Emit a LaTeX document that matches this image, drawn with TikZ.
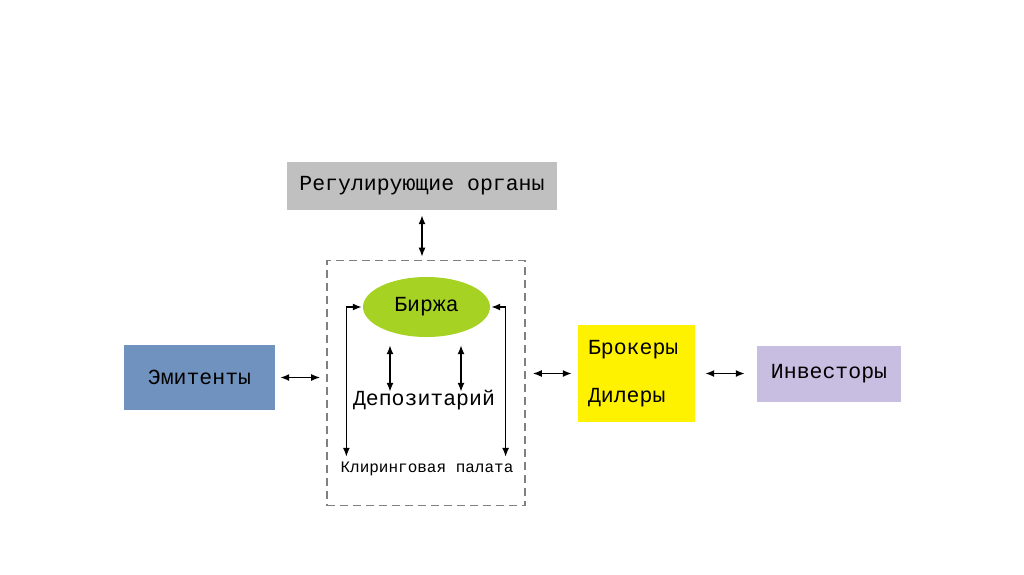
\documentclass[tikz,border=0pt]{standalone}
\usepackage{fontspec}
\setmainfont{Liberation Mono}
\usepackage{tikz}
\usetikzlibrary{arrows,arrows.meta,shapes.geometric,positioning}
\tikzset{>={Latex[length=9pt,width=7pt]}}
\definecolor{regGray}{RGB}{192,192,192}
\definecolor{emitBlue}{RGB}{112,146,190}
\definecolor{birzhaGreen}{RGB}{166,210,36}
\definecolor{brokYellow}{RGB}{255,242,0}
\definecolor{investLilac}{RGB}{200,190,225}
\definecolor{frameGray}{RGB}{128,128,128}
\tikzset{
  box/.style={rectangle,inner sep=0pt,font=\fontsize{21.5}{24}\selectfont},
  link/.style={<->,line width=1.5pt,black}
}
\begin{document}
\begin{tikzpicture}[x=1pt,y=-1pt]
                \useasboundingbox (0,0) rectangle (1024,574);
                \node[box,fill=regGray,minimum width=270pt,minimum height=48pt] (reg) at (422,186) {Регулирующие органы};
                \node[rectangle,draw=frameGray,line width=1.6pt,dash pattern=on 8pt off 5pt,minimum width=198pt,minimum height=245pt] (market) at (426,383) {};
                \node[ellipse,fill=birzhaGreen,inner sep=0pt,minimum width=127pt,minimum height=60pt,font=\fontsize{21.5}{24}\selectfont] (birzha) at (426.5,307) {Биржа};
                \node[box,text height=12pt,text depth=4pt] (depo) at (424,401) {Депозитарий};
                \node[box,font=\fontsize{16}{18}\selectfont,text height=9pt,text depth=3pt] (klir) at (427,469) {Клиринговая палата};
                \node[box,fill=emitBlue,minimum width=151pt,minimum height=65pt] (emit) at (199.5,377.5) {Эмитенты};
                \node[box,fill=brokYellow,minimum width=117pt,minimum height=97pt,align=left,text width=97pt] (brok) at (636.5,373.5) {Брокеры\\[24pt]Дилеры};
                \node[box,fill=investLilac,minimum width=144pt,minimum height=56pt] (invest) at (829,374) {Инвесторы};
                \coordinate (depoL) at ([xshift=-36.5pt]birzha.south);
                \coordinate (depoR) at ([xshift=34.5pt]birzha.south);

                \draw[link,shorten <=5pt,shorten >=3pt] (reg.south) -- (reg.south |- market.north);
                \draw[link,shorten <=5pt,shorten >=6pt] (emit.east) -- (emit.east -| market.west);
                \draw[link,shorten <=7pt,shorten >=6pt] (market.east |- brok.west) -- (brok.west);
                \draw[link,shorten <=10pt,shorten >=12pt] (brok.east) -- (brok.east -| invest.west);
                \draw[link] ([xshift=-1pt]birzha.west) -| ([xshift=6pt,yshift=6pt]klir.north west);
                \draw[link] ([xshift=1pt]birzha.east) -| ([xshift=-8pt,yshift=6pt]klir.north east);
                \draw[link,shorten <=8pt,shorten >=1pt] (depoL) -- (depoL |- depo.north);
                \draw[link,shorten <=8pt,shorten >=1pt] (depoR) -- (depoR |- depo.north);
\end{tikzpicture}
\end{document}
